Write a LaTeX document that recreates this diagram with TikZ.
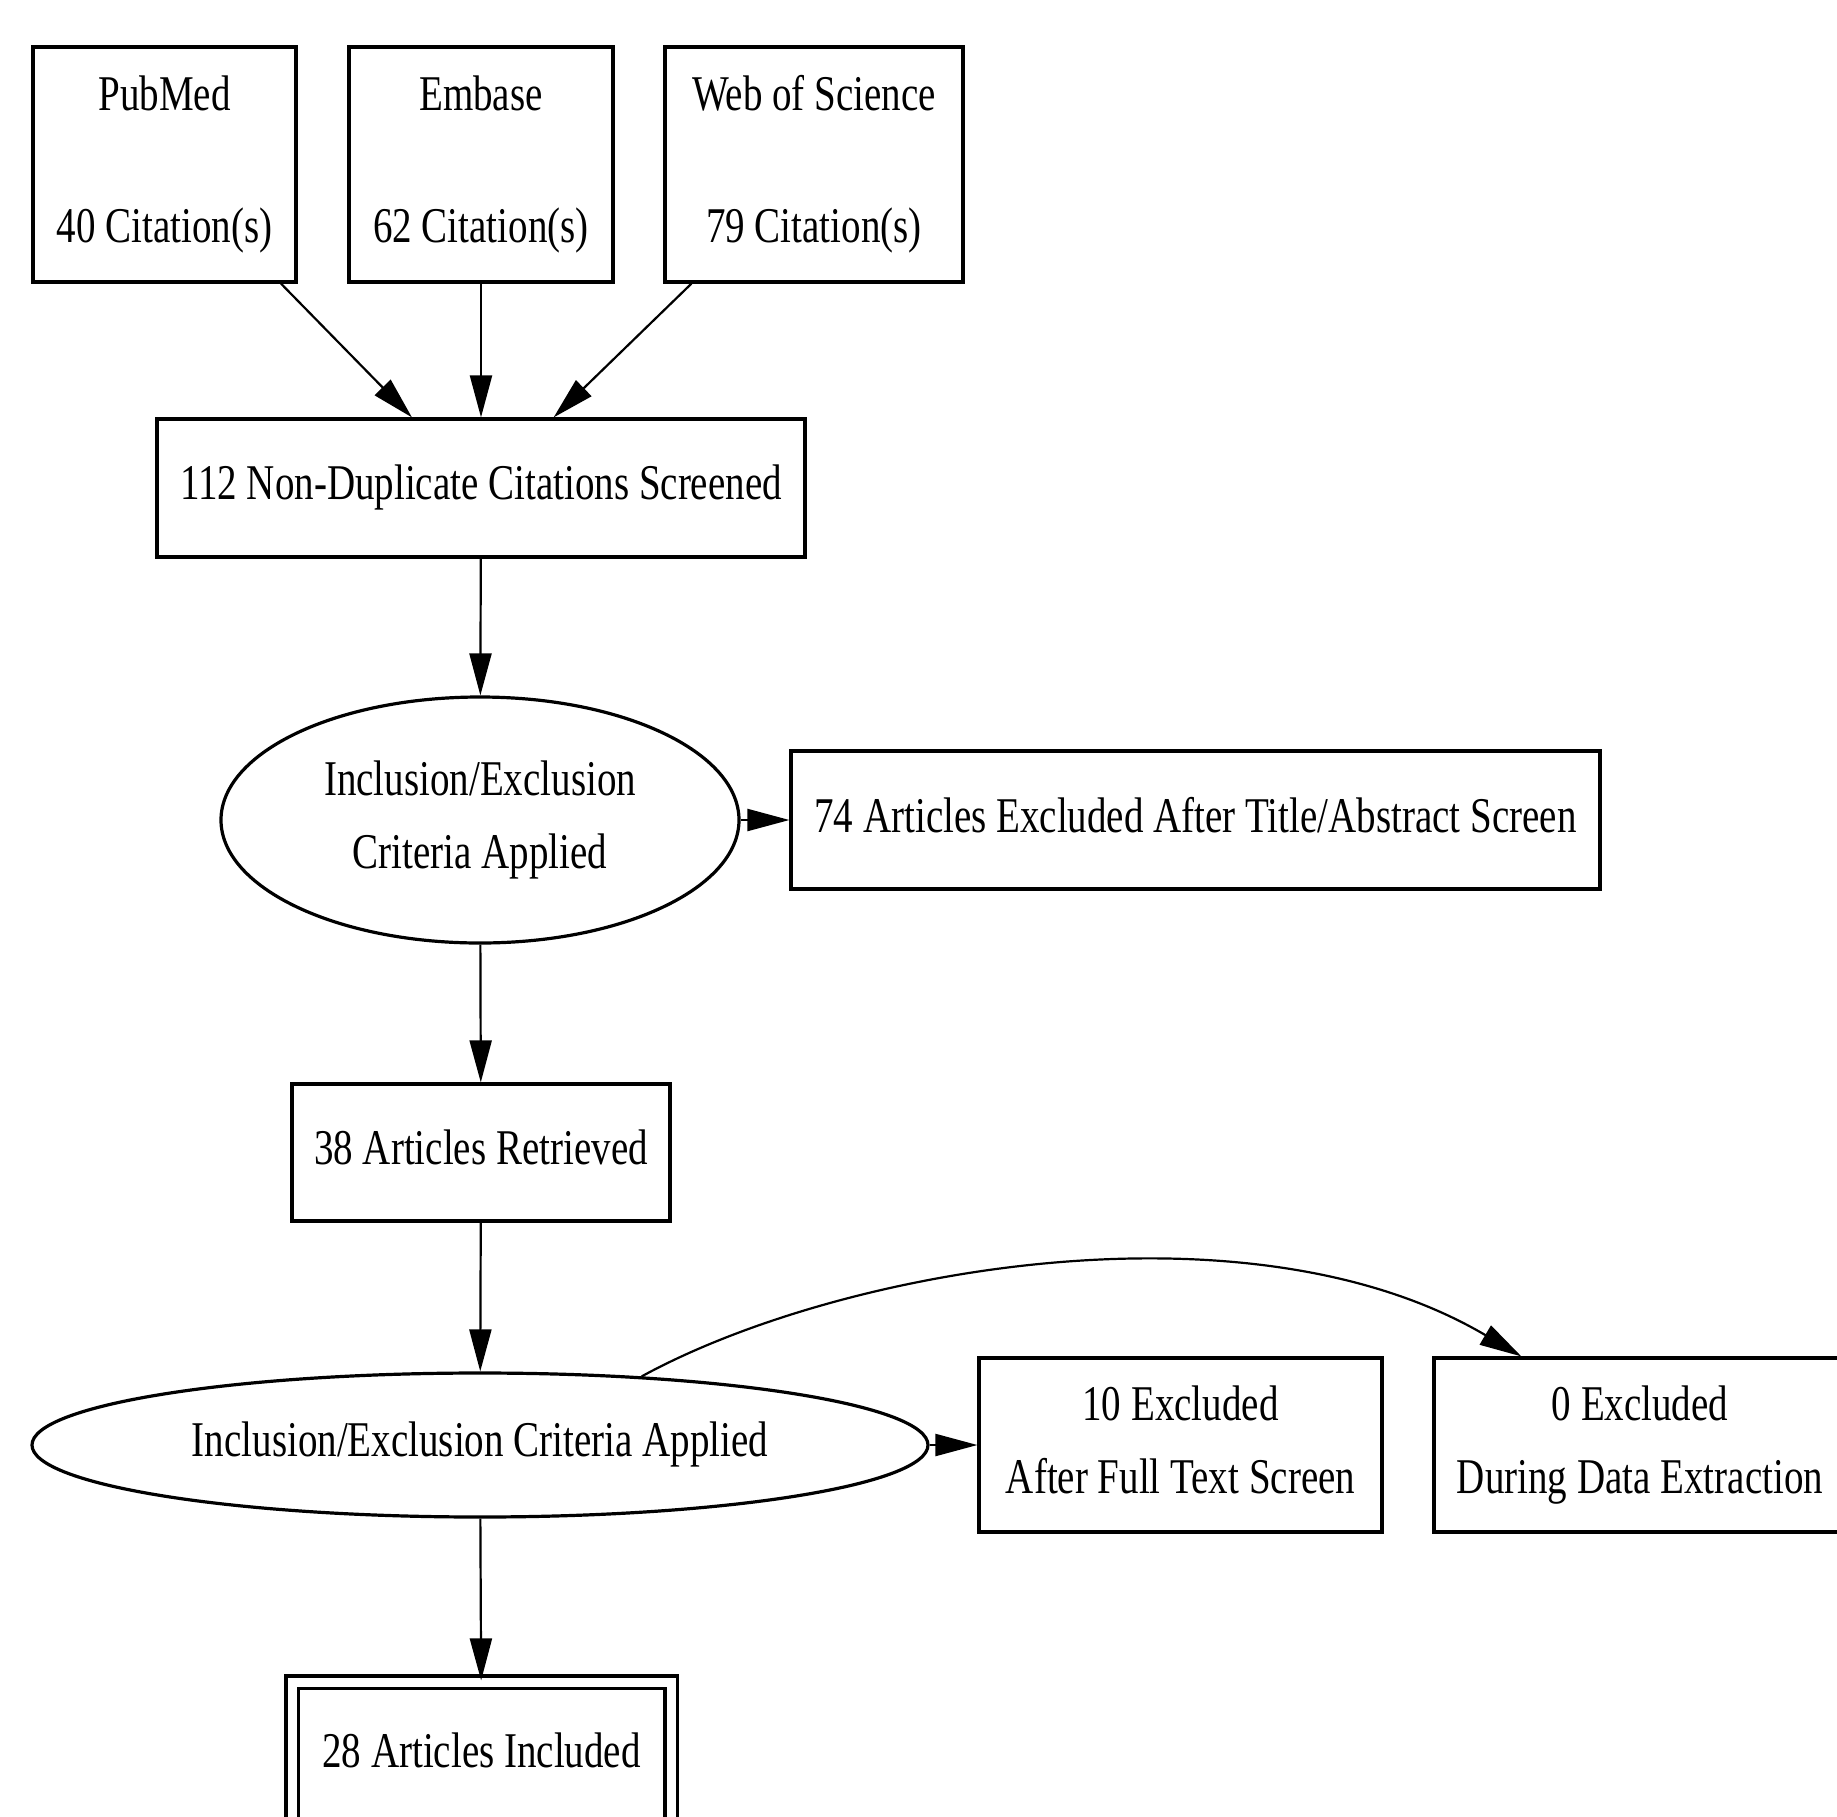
\documentclass[tikz,border=0pt]{standalone}
\usepackage{fontspec}
\setmainfont[FakeStretch=0.78]{Liberation Serif}
\usetikzlibrary{arrows.meta,shapes.geometric,calc}
\newcommand{\ls}{\rule[-5.5pt]{0pt}{17pt}}
\begin{document}
\begin{tikzpicture}[x=0.5pt,y=-0.5pt,
  txt/.style={font=\fontsize{25pt}{36.5pt}\selectfont, align=center, inner sep=0pt, text=black},
  box/.style={txt, draw=black, line width=1.6pt, rectangle},
  oval/.style={txt, draw=black, line width=1.6pt, ellipse},
  arr/.style={-{Triangle[length=21pt,width=11pt]}, line width=1.1pt, draw=black}]
\clip (0,0) rectangle (1837,1816);
\fill[white] (0,0) rectangle (1837,1816);

\node[box, minimum width=131.5pt, minimum height=117.5pt] (pubmed) at (164.5,164.5) {\ls PubMed\\[29.5pt]\ls 40 Citation(s)};
\node[box, minimum width=132pt, minimum height=117.5pt] (embase) at (481,164.5) {\ls Embase\\[29.5pt]\ls 62 Citation(s)};
\node[box, minimum width=149pt, minimum height=117.5pt] (wos) at (814,164.5) {\ls Web of Science\\[29.5pt]\ls 79 Citation(s)};

\node[box, minimum width=324pt, minimum height=69pt] (screened) at (481,488) {\ls 112 Non-Duplicate Citations Screened};

\node[oval, minimum width=259pt, minimum height=123pt] (crit1) at (480,820) {\ls Inclusion/Exclusion\\\ls Criteria Applied};
\node[box, minimum width=404.5pt, minimum height=69pt] (excl74) at (1195.5,820) {\ls 74 Articles Excluded After Title/Abstract Screen};

\node[box, minimum width=189pt, minimum height=68.5pt] (retrieved) at (481,1152.5) {\ls 38 Articles Retrieved};

\node[oval, minimum width=448pt, minimum height=72pt] (crit2) at (480,1445) {\ls Inclusion/Exclusion Criteria Applied};
\node[box, minimum width=201.5pt, minimum height=87pt] (excl10) at (1180.5,1445) {\ls 10 Excluded\\\ls After Full Text Screen};
\node[box, minimum width=206pt, minimum height=87pt] (excl0) at (1640,1445) {\ls 0 Excluded\\\ls During Data Extraction};

\node[box, double, double distance=4.5pt, minimum width=189.5pt, minimum height=75pt] (included) at (481.5,1757) {};
\node[txt] (includedtext) at (481.5,1756) {\ls 28 Articles Included};

\draw[arr] (pubmed) -- (screened);
\draw[arr] (embase) -- (screened);
\draw[arr] (wos) -- (screened);
\draw[arr] (screened) -- (crit1);
\draw[arr] (crit1) -- (excl74);
\draw[arr] (crit1) -- (retrieved);
\draw[arr] (retrieved) -- (crit2);
\draw[arr] (crit2) -- (excl10);
\coordinate (c0end) at ($(excl0.north west)+(89,0)$);
\draw[arr] (crit2.23) .. controls (840,1268) and (1250,1196) .. (c0end);
\draw[arr] (crit2) -- (included);
\end{tikzpicture}
\end{document}
